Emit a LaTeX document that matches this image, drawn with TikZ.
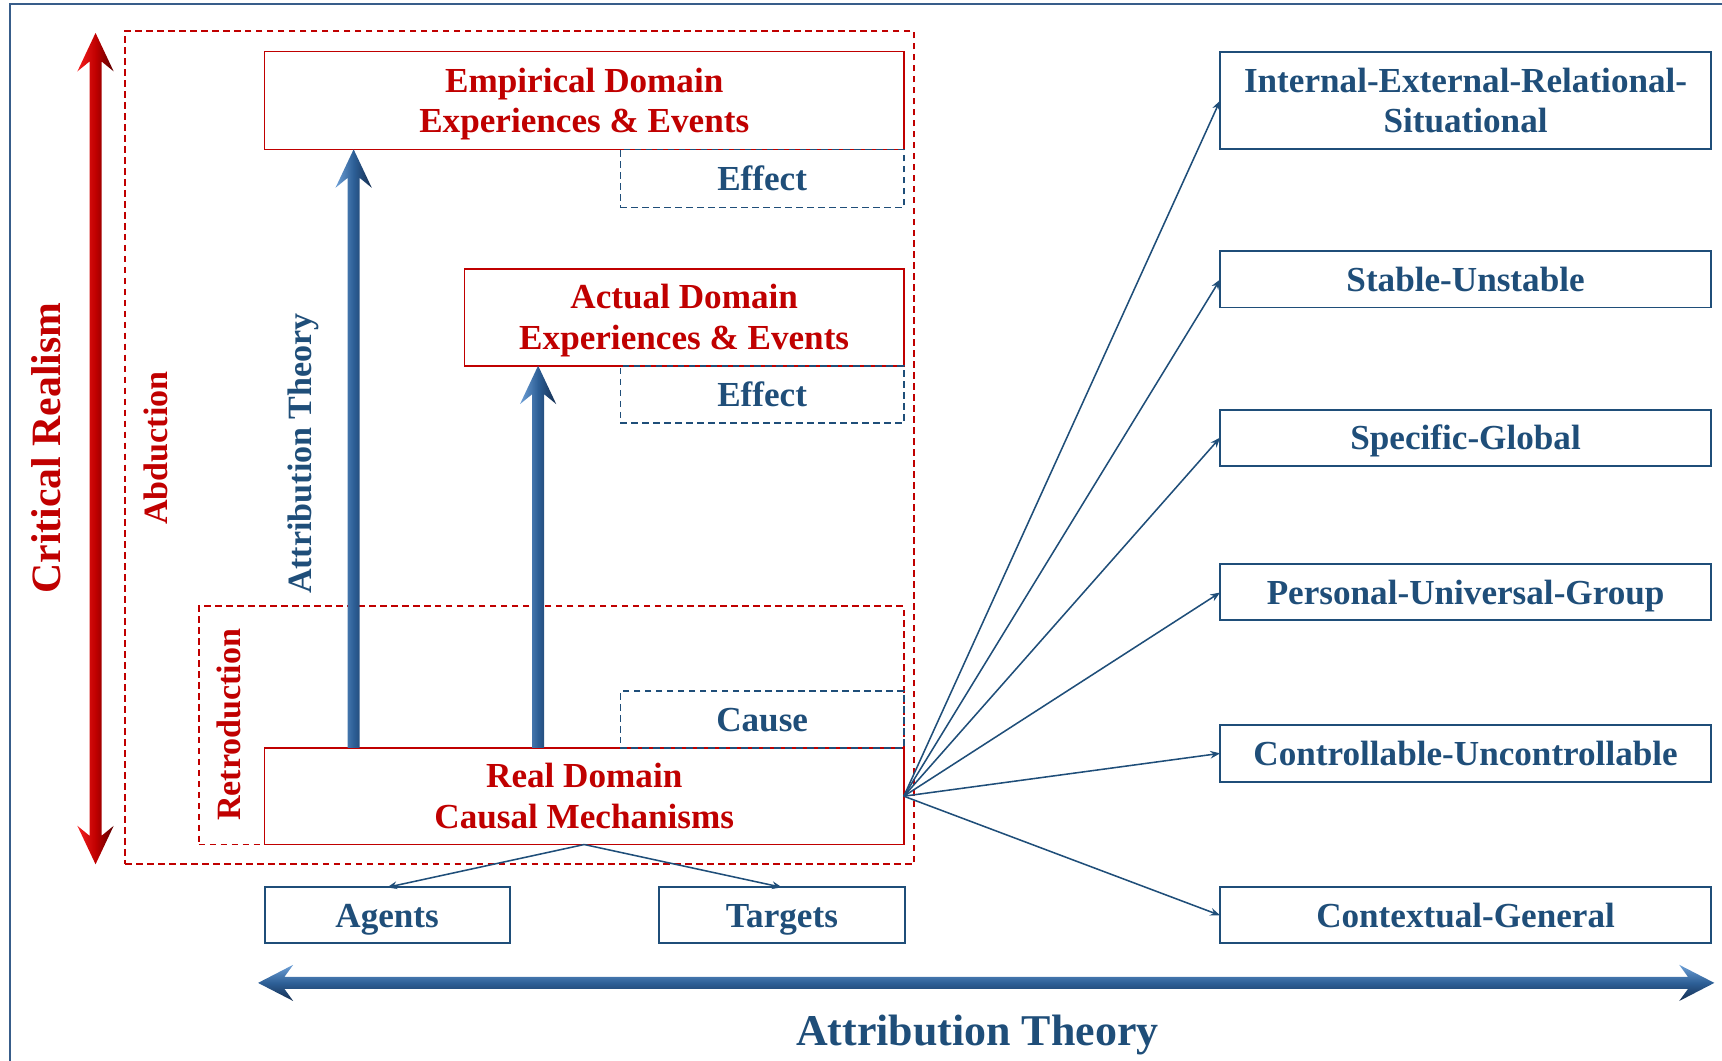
\documentclass[tikz,border=0pt]{standalone}
\usepackage{fontspec}
\setmainfont{Liberation Serif}
\usetikzlibrary{arrows.meta,calc}

\definecolor{crRed}{RGB}{192,0,0}
\definecolor{atBlue}{RGB}{31,78,121}
\definecolor{frameBlue}{RGB}{56,93,138}
\definecolor{redLight}{RGB}{245,30,30}
\definecolor{redDark}{RGB}{90,0,0}
\definecolor{blueLight}{RGB}{110,160,215}
\definecolor{blueMid}{RGB}{45,95,150}
\definecolor{blueDark}{RGB}{20,45,80}

% fixed line height so every text line is centred the same way
\newcommand\lnstrut{\rule[-6.9pt]{0pt}{35.4pt}}

\tikzset{
  txt/.style={font=\fontsize{32}{37}\selectfont\bfseries, align=center},
  wh/.style 2 args={minimum width=#1pt, minimum height=#2pt},
  redbox/.style={draw=crRed, line width=1.5pt, txt, text=crRed, inner sep=0pt, outer sep=0pt},
  bluebox/.style={draw=atBlue, line width=1.8pt, txt, text=atBlue, inner sep=0pt, outer sep=0pt},
  reddash/.style={draw=crRed, line width=1.5pt, dash pattern=on 6pt off 4pt, inner sep=0pt, outer sep=0pt},
  bluedash/.style={draw=atBlue, line width=1.5pt, dash pattern=on 6pt off 4pt, txt, text=atBlue, inner sep=0pt, outer sep=0pt},
  link/.style={draw=atBlue, line width=1.4pt, -{Stealth[length=9pt,width=7pt]}},
  sidelabel/.style={rotate=90, font=\fontsize{31}{36}\selectfont\bfseries},
}

% thick shaded arrow pointing up, from #1 (base) to #2 (tip)
\newcommand\fatuparrow[2]{%
  \shade[left color=blueLight, right color=blueDark, middle color=blueMid]
    let \p1=(#1), \p2=(#2) in
    (\x1-5.5,\y1) -- (\x1-5.5,\y2-26) -- (\x1-16.5,\y2-35) -- (\x2,\y2)
    -- (\x1+16.5,\y2-35) -- (\x1+5.5,\y2-26) -- (\x1+5.5,\y1) -- cycle;
}

\begin{document}
\begin{tikzpicture}[x=1pt,y=1pt]
\useasboundingbox (0,0) rectangle (1568,966);

% outer frame (left and top edges)
\draw[frameBlue, line width=1.6pt] (9,-5) -- (9,962) -- (1580,962);

% dashed regions
\node[reddash, wh={718}{759}] (abd) at (473,558.5) {};
\node[reddash, wh={642}{217}] (retro) at (502,305.5) {};

% domain boxes
\node[redbox, wh={582}{89}] (emp) at (532,874.5) {\lnstrut Empirical Domain\\\lnstrut Experiences \& Events};
\node[redbox, wh={400}{88}] (act) at (623,677) {\lnstrut Actual Domain\\\lnstrut Experiences \& Events};
\node[redbox, wh={582}{88}] (real) at (532,241) {\lnstrut Real Domain\\\lnstrut Causal Mechanisms};

% effect / cause tags
\node[bluedash, wh={258}{53}] (eff1) at (694,803.5) {\lnstrut Effect};
\node[bluedash, wh={258}{52}] (eff2) at (694,607) {\lnstrut Effect};
\node[bluedash, wh={258}{52}] (cause) at (694,311) {\lnstrut Cause};

% agents and targets
\node[bluebox, wh={223}{51}] (agents) at (352.5,132.5) {\lnstrut Agents};
\node[bluebox, wh={224}{51}] (targets) at (712,132.5) {\lnstrut Targets};

% attribution dimensions
\node[bluebox, wh={447}{89}] (ie) at (1334.5,874.5) {\lnstrut Internal-External-Relational-\\\lnstrut Situational};
\node[bluebox, wh={447}{51}] (su) at (1334.5,711.5) {\lnstrut Stable-Unstable};
\node[bluebox, wh={447}{51}] (sg) at (1334.5,567.5) {\lnstrut Specific-Global};
\node[bluebox, wh={447}{51}] (pug) at (1334.5,426.5) {\lnstrut Personal-Universal-Group};
\node[bluebox, wh={447}{52}] (cu) at (1334.5,280) {\lnstrut Controllable-Uncontrollable};
\node[bluebox, wh={447}{51}] (cg) at (1334.5,132.5) {\lnstrut Contextual-General};

% connectors
\foreach \t in {ie,su,sg,pug,cu,cg}
  \draw[link] (real.east) -- (\t.west);
\draw[link] (real.south) -- (agents.north);
\draw[link] (real.south) -- (targets.north);

% thick arrows from the real domain upwards
\coordinate (ax1) at (322,0);
\coordinate (ax2) at (490,0);
\fatuparrow{real.north -| ax1}{emp.south -| ax1}
\fatuparrow{real.north -| ax2}{act.south -| ax2}

% critical realism double arrow
\coordinate (crtop) at (87,936);
\coordinate (crbot) at (87,179);
\shade[left color=redLight, right color=redDark, middle color=crRed]
  let \p1=(crbot), \p2=(crtop) in
  (\x2,\y2) -- (\x2+16.5,\y2-35) -- (\x2+5.5,\y2-26) -- (\x1+5.5,\y1+26)
  -- (\x1+16.5,\y1+35) -- (\x1,\y1) -- (\x1-16.5,\y1+35) -- (\x1-5.5,\y1+26)
  -- (\x2-5.5,\y2-26) -- (\x2-16.5,\y2-35) -- cycle;

% attribution theory double arrow
\coordinate (atl) at (235,71);
\coordinate (atr) at (1561,71);
\shade[top color=blueLight, bottom color=blueDark, middle color=blueMid]
  let \p1=(atl), \p2=(atr) in
  (\x1,\y1) -- (\x1+32,\y1+16.5) -- (\x1+24,\y1+5.5) -- (\x2-24,\y2+5.5)
  -- (\x2-32,\y2+16.5) -- (\x2,\y2) -- (\x2-32,\y2-16.5) -- (\x2-24,\y2-5.5)
  -- (\x1+24,\y1-5.5) -- (\x1+32,\y1-16.5) -- cycle;

% labels
\node[rotate=90, text=crRed, font=\fontsize{38}{44}\selectfont\bfseries] (crlab) at (42,558) {Critical Realism};
\node[sidelabel, text=crRed] (abdlab) at (142,558) {Abduction};
\node[sidelabel, text=crRed] (retlab) at (208,306) {Retroduction};
\node[sidelabel, text=atBlue] (atvlab) at (276,553) {Attribution Theory};
\node[text=atBlue, font=\fontsize{40}{46}\selectfont\bfseries] (athlab) at (890,24) {Attribution Theory};
\end{tikzpicture}
\end{document}
